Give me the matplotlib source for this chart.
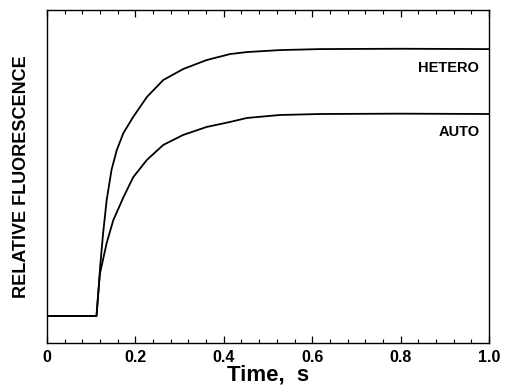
import matplotlib
matplotlib.use("Agg")
import matplotlib.pyplot as plt
from matplotlib.ticker import MultipleLocator

plt.rcParams['font.family'] = ['Liberation Sans', 'DejaVu Sans']
plt.rcParams['font.weight'] = 'bold'

# values (arbitrary fluorescence units)
time_hetero = [0.0, 0.112, 0.118, 0.120, 0.127, 0.135, 0.146, 0.158, 0.173,
               0.195, 0.226, 0.263, 0.308, 0.361, 0.414, 0.452, 0.527, 0.618,
               0.799, 1.0]
fluo_hetero = [0.081, 0.081, 0.183, 0.225, 0.330, 0.429, 0.520, 0.580, 0.631,
               0.679, 0.739, 0.790, 0.823, 0.850, 0.868, 0.874, 0.880, 0.883,
               0.884, 0.883]

time_auto = [0.0, 0.112, 0.118, 0.120, 0.135, 0.150, 0.173, 0.195, 0.226,
             0.263, 0.308, 0.361, 0.414, 0.452, 0.527, 0.618, 0.8, 1.0]
fluo_auto = [0.081, 0.081, 0.183, 0.210, 0.300, 0.369, 0.438, 0.498, 0.550,
             0.595, 0.625, 0.649, 0.664, 0.676, 0.685, 0.688, 0.689, 0.688]

x_ticks = [0, 0.2, 0.4, 0.6, 0.8, 1.0]
x_tick_labels = ["0", "0.2", "0.4", "0.6", "0.8", "1.0"]

fig = plt.figure(figsize=(5.09, 3.90), dpi=100)
ax = fig.add_axes([0.0923, 0.1205, 0.8684, 0.8535])

ax.plot(time_hetero, fluo_hetero, color='black', lw=1.3, solid_joinstyle='round')
ax.plot(time_auto, fluo_auto, color='black', lw=1.3, solid_joinstyle='round')

ax.text(0.978, 0.826, "HETERO", fontsize=10.5, fontweight='bold', ha='right', va='center')
ax.text(0.978, 0.635, "AUTO", fontsize=10.5, fontweight='bold', ha='right', va='center')

ax.set_xlim(0, 1.0)
ax.set_ylim(0, 1.0)
ax.set_xticks(x_ticks)
ax.set_xticklabels(x_tick_labels)
ax.xaxis.set_minor_locator(MultipleLocator(0.04))
ax.set_yticks([])
ax.tick_params(axis='x', which='both', direction='in', top=True, bottom=True,
               labelsize=11.5, pad=5)
ax.tick_params(axis='x', which='major', length=5, width=0.9)
ax.tick_params(axis='x', which='minor', length=3, width=0.8)
for s in ax.spines.values():
    s.set_linewidth(1.0)

ax.set_xlabel("Time,  s", fontsize=16, fontweight='bold', labelpad=0)
ax.set_ylabel("RELATIVE FLUORESCENCE", fontsize=13, fontweight='bold', labelpad=12)

fig.savefig("out.png", dpi=100)
